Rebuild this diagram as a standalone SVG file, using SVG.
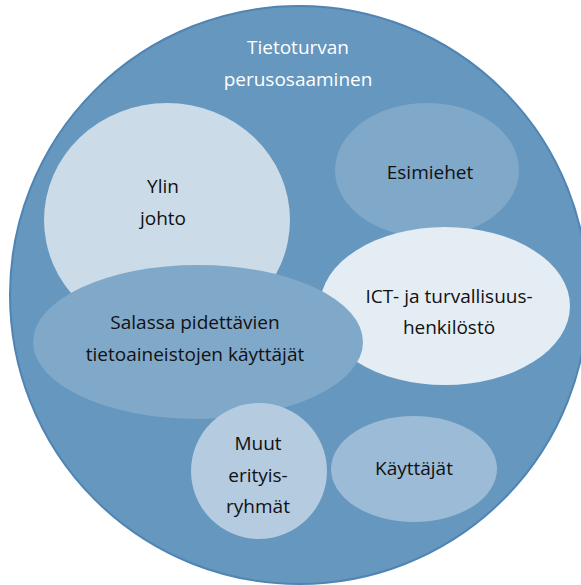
<svg xmlns="http://www.w3.org/2000/svg" width="581" height="585" viewBox="0 0 581 585">
<style>
text{font-family:"Open Sans","Noto Sans","Liberation Sans",sans-serif;font-size:19px;text-anchor:middle;fill:#111;}
.w{fill:#fff;}
</style>
<rect width="581" height="585" fill="#fff"/>
<g id="outer">
<circle cx="299" cy="295" r="289" fill="#6597bf" stroke="#4f84b3" stroke-width="2"/>
<text class="w" x="298" y="54">Tietoturvan</text>
<text class="w" x="298" y="86">perusosaaminen</text>
</g>
<g id="ylin">
<ellipse cx="167" cy="220" rx="123" ry="117" fill="#cbdbe8"/>
<text x="163" y="193">Ylin</text>
<text x="163" y="225">johto</text>
</g>
<g id="esimiehet">
<ellipse cx="427" cy="170" rx="92" ry="67" fill="#80a8c9"/>
<text x="430" y="179">Esimiehet</text>
</g>
<g id="ict">
<ellipse cx="445" cy="306" rx="125" ry="79" fill="#e4ecf4"/>
<text x="449" y="303">ICT- ja turvallisuus-</text>
<text x="449" y="334">henkilöstö</text>
</g>
<g id="salassa">
<ellipse cx="198" cy="342" rx="165" ry="77" fill="#80a8c9"/>
<text x="195" y="329">Salassa pidettävien</text>
<text x="195" y="361">tietoaineistojen käyttäjät</text>
</g>
<g id="muut">
<ellipse cx="259" cy="471" rx="68" ry="68" fill="#b4cbe0"/>
<text x="258" y="450">Muut</text>
<text x="258" y="482">erityis-</text>
<text x="258" y="513">ryhmät</text>
</g>
<g id="kayttajat">
<ellipse cx="414" cy="469" rx="83" ry="53" fill="#9bbbd6"/>
<text x="414" y="475">Käyttäjät</text>
</g>
<g id="connectors"/>
</svg>
